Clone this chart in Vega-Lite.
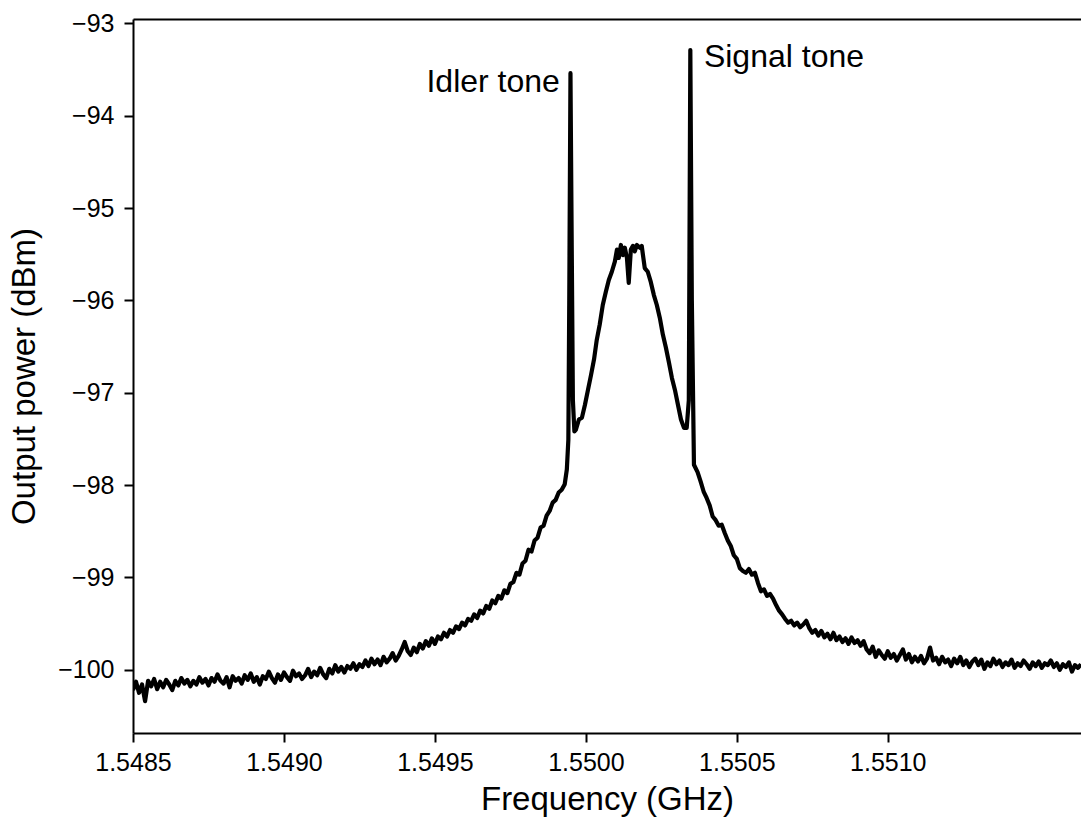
{
"$schema": "https://vega.github.io/schema/vega-lite/v6.json",
"width": 948,
"height": 714,
"autosize": {"type": "none"},
"padding": {"left": 133, "top": 19, "right": 0, "bottom": 86},
"background": "white",
"config": {
  "view": {"stroke": null},
  "font": "Liberation Sans",
  "axis": {"domainColor": "black", "domainWidth": 2, "tickColor": "black", "tickWidth": 2, "tickSize": 9, "labelColor": "black", "labelFontSize": 25, "labelFont": "Liberation Sans", "titleFont": "Liberation Sans", "titleFontSize": 33, "titleFontWeight": "normal", "titleColor": "black", "grid": false, "labelFlush": false, "labelOverlap": false}
},
"datasets": {
  "spec": [
{"f":1.54850,"p":-100.22},{"f":1.54851,"p":-100.13},{"f":1.54852,"p":-100.25},{"f":1.54853,"p":-100.16},{"f":1.54854,"p":-100.34},{"f":1.54855,"p":-100.12},{"f":1.54856,"p":-100.18},{"f":1.54857,"p":-100.10},{"f":1.54858,"p":-100.21},{"f":1.54859,"p":-100.13},
{"f":1.54860,"p":-100.19},{"f":1.54861,"p":-100.11},{"f":1.54862,"p":-100.16},{"f":1.54863,"p":-100.22},{"f":1.54864,"p":-100.12},{"f":1.54865,"p":-100.17},{"f":1.54866,"p":-100.09},{"f":1.54867,"p":-100.15},{"f":1.54868,"p":-100.11},{"f":1.54869,"p":-100.18},
{"f":1.54870,"p":-100.12},{"f":1.54871,"p":-100.16},{"f":1.54872,"p":-100.08},{"f":1.54873,"p":-100.14},{"f":1.54874,"p":-100.10},{"f":1.54875,"p":-100.17},{"f":1.54876,"p":-100.09},{"f":1.54877,"p":-100.13},{"f":1.54878,"p":-100.05},{"f":1.54879,"p":-100.12},
{"f":1.54880,"p":-100.15},{"f":1.54881,"p":-100.08},{"f":1.54882,"p":-100.19},{"f":1.54883,"p":-100.07},{"f":1.54884,"p":-100.12},{"f":1.54885,"p":-100.09},{"f":1.54886,"p":-100.15},{"f":1.54887,"p":-100.06},{"f":1.54888,"p":-100.11},{"f":1.54889,"p":-100.04},
{"f":1.54890,"p":-100.13},{"f":1.54891,"p":-100.08},{"f":1.54892,"p":-100.16},{"f":1.54893,"p":-100.07},{"f":1.54894,"p":-100.10},{"f":1.54895,"p":-100.02},{"f":1.54896,"p":-100.09},{"f":1.54897,"p":-100.14},{"f":1.54898,"p":-100.05},{"f":1.54899,"p":-100.11},
{"f":1.54900,"p":-100.03},{"f":1.54901,"p":-100.08},{"f":1.54902,"p":-100.12},{"f":1.54903,"p":-100.01},{"f":1.54904,"p":-100.07},{"f":1.54905,"p":-100.04},{"f":1.54906,"p":-100.10},{"f":1.54907,"p":-100.06},{"f":1.54908,"p":-99.99},{"f":1.54909,"p":-100.08},
{"f":1.54910,"p":-100.02},{"f":1.54911,"p":-100.06},{"f":1.54912,"p":-99.98},{"f":1.54913,"p":-100.05},{"f":1.54914,"p":-100.09},{"f":1.54915,"p":-99.99},{"f":1.54916,"p":-100.04},{"f":1.54917,"p":-99.95},{"f":1.54918,"p":-100.02},{"f":1.54919,"p":-99.97},
{"f":1.54920,"p":-100.03},{"f":1.54921,"p":-99.96},{"f":1.54922,"p":-99.99},{"f":1.54923,"p":-99.93},{"f":1.54924,"p":-100.00},{"f":1.54925,"p":-99.94},{"f":1.54926,"p":-99.97},{"f":1.54927,"p":-99.90},{"f":1.54928,"p":-99.96},{"f":1.54929,"p":-99.88},
{"f":1.54930,"p":-99.94},{"f":1.54931,"p":-99.89},{"f":1.54932,"p":-99.95},{"f":1.54933,"p":-99.86},{"f":1.54934,"p":-99.92},{"f":1.54935,"p":-99.88},{"f":1.54936,"p":-99.82},{"f":1.54937,"p":-99.90},{"f":1.54938,"p":-99.85},{"f":1.54939,"p":-99.78},
{"f":1.54940,"p":-99.70},{"f":1.54941,"p":-99.80},{"f":1.54942,"p":-99.84},{"f":1.54943,"p":-99.76},{"f":1.54944,"p":-99.81},{"f":1.54945,"p":-99.72},{"f":1.54946,"p":-99.77},{"f":1.54947,"p":-99.69},{"f":1.54948,"p":-99.74},{"f":1.54949,"p":-99.66},
{"f":1.54950,"p":-99.72},{"f":1.54951,"p":-99.64},{"f":1.54952,"p":-99.67},{"f":1.54953,"p":-99.60},{"f":1.54954,"p":-99.64},{"f":1.54955,"p":-99.57},{"f":1.54956,"p":-99.60},{"f":1.54957,"p":-99.53},{"f":1.54958,"p":-99.56},{"f":1.54959,"p":-99.49},
{"f":1.54960,"p":-99.52},{"f":1.54961,"p":-99.45},{"f":1.54962,"p":-99.47},{"f":1.54963,"p":-99.40},{"f":1.54964,"p":-99.44},{"f":1.54965,"p":-99.36},{"f":1.54966,"p":-99.39},{"f":1.54967,"p":-99.31},{"f":1.54968,"p":-99.34},{"f":1.54969,"p":-99.25},
{"f":1.54970,"p":-99.28},{"f":1.54971,"p":-99.20},{"f":1.54972,"p":-99.23},{"f":1.54973,"p":-99.14},{"f":1.54974,"p":-99.17},{"f":1.54975,"p":-99.07},{"f":1.54976,"p":-99.05},{"f":1.54977,"p":-98.95},{"f":1.54978,"p":-98.97},{"f":1.54979,"p":-98.85},
{"f":1.54980,"p":-98.82},{"f":1.54981,"p":-98.70},{"f":1.54982,"p":-98.72},{"f":1.54983,"p":-98.60},{"f":1.54984,"p":-98.57},{"f":1.54985,"p":-98.46},{"f":1.54986,"p":-98.44},{"f":1.54987,"p":-98.33},{"f":1.54988,"p":-98.28},{"f":1.54989,"p":-98.19},
{"f":1.54990,"p":-98.16},{"f":1.54991,"p":-98.08},{"f":1.54992,"p":-98.05},{"f":1.54993,"p":-97.99},
{"f":1.549937,"p":-97.83},{"f":1.549942,"p":-97.51},{"f":1.549945,"p":-96.00},{"f":1.549949,"p":-93.54},{"f":1.549952,"p":-94.91},{"f":1.549957,"p":-97.08},{"f":1.549962,"p":-97.42},
{"f":1.549967,"p":-97.40},{"f":1.549977,"p":-97.29},{"f":1.549987,"p":-97.27},{"f":1.549997,"p":-97.13},{"f":1.550007,"p":-96.97},{"f":1.550017,"p":-96.81},{"f":1.550027,"p":-96.64},{"f":1.550036,"p":-96.43},{"f":1.550046,"p":-96.26},{"f":1.550056,"p":-96.05},
{"f":1.550066,"p":-95.91},{"f":1.550076,"p":-95.78},{"f":1.550086,"p":-95.69},{"f":1.550096,"p":-95.58},{"f":1.550103,"p":-95.45},{"f":1.550109,"p":-95.54},{"f":1.550116,"p":-95.40},{"f":1.550123,"p":-95.51},{"f":1.550129,"p":-95.43},{"f":1.550136,"p":-95.54},
{"f":1.550142,"p":-95.81},{"f":1.550149,"p":-95.45},{"f":1.550156,"p":-95.41},{"f":1.550162,"p":-95.47},{"f":1.550169,"p":-95.40},{"f":1.550179,"p":-95.43},{"f":1.550185,"p":-95.41},{"f":1.550195,"p":-95.65},{"f":1.550205,"p":-95.69},{"f":1.550215,"p":-95.80},
{"f":1.550225,"p":-95.94},{"f":1.550235,"p":-96.05},{"f":1.550245,"p":-96.19},{"f":1.550255,"p":-96.37},{"f":1.550265,"p":-96.51},{"f":1.550275,"p":-96.67},{"f":1.550285,"p":-96.84},{"f":1.550295,"p":-96.97},{"f":1.550305,"p":-97.13},{"f":1.550315,"p":-97.29},
{"f":1.550325,"p":-97.38},{"f":1.550334,"p":-97.38},{"f":1.550341,"p":-97.08},{"f":1.550346,"p":-93.29},{"f":1.550351,"p":-96.00},{"f":1.550358,"p":-97.78},
{"f":1.55037,"p":-97.86},{"f":1.55038,"p":-97.96},{"f":1.55039,"p":-98.07},{"f":1.55040,"p":-98.14},{"f":1.55041,"p":-98.22},{"f":1.55042,"p":-98.34},{"f":1.55043,"p":-98.38},{"f":1.55044,"p":-98.44},{"f":1.55045,"p":-98.43},{"f":1.55046,"p":-98.52},
{"f":1.55047,"p":-98.60},{"f":1.55048,"p":-98.66},{"f":1.55049,"p":-98.76},{"f":1.55050,"p":-98.80},{"f":1.55051,"p":-98.90},{"f":1.55052,"p":-98.93},{"f":1.55053,"p":-98.95},{"f":1.55054,"p":-98.91},{"f":1.55055,"p":-98.97},{"f":1.55056,"p":-98.95},
{"f":1.55057,"p":-99.06},{"f":1.55058,"p":-99.15},{"f":1.55059,"p":-99.13},{"f":1.55060,"p":-99.20},{"f":1.55061,"p":-99.18},{"f":1.55062,"p":-99.23},{"f":1.55063,"p":-99.30},{"f":1.55064,"p":-99.36},{"f":1.55065,"p":-99.40},{"f":1.55066,"p":-99.45},
{"f":1.55067,"p":-99.49},{"f":1.55068,"p":-99.47},{"f":1.55069,"p":-99.52},{"f":1.55070,"p":-99.49},{"f":1.55071,"p":-99.54},{"f":1.55072,"p":-99.51},{"f":1.55073,"p":-99.47},{"f":1.55074,"p":-99.55},{"f":1.55075,"p":-99.60},{"f":1.55076,"p":-99.57},
{"f":1.55077,"p":-99.63},{"f":1.55078,"p":-99.58},{"f":1.55079,"p":-99.65},{"f":1.55080,"p":-99.61},{"f":1.55081,"p":-99.67},{"f":1.55082,"p":-99.60},{"f":1.55083,"p":-99.68},{"f":1.55084,"p":-99.64},{"f":1.55085,"p":-99.70},{"f":1.55086,"p":-99.66},
{"f":1.55087,"p":-99.72},{"f":1.55088,"p":-99.65},{"f":1.55089,"p":-99.71},{"f":1.55090,"p":-99.68},{"f":1.55091,"p":-99.74},{"f":1.55092,"p":-99.69},{"f":1.55093,"p":-99.78},{"f":1.55094,"p":-99.82},{"f":1.55095,"p":-99.75},{"f":1.55096,"p":-99.86},
{"f":1.55097,"p":-99.79},{"f":1.55098,"p":-99.84},{"f":1.55099,"p":-99.88},{"f":1.55100,"p":-99.80},{"f":1.55101,"p":-99.87},{"f":1.55102,"p":-99.83},{"f":1.55103,"p":-99.90},{"f":1.55104,"p":-99.84},{"f":1.55105,"p":-99.78},{"f":1.55106,"p":-99.89},
{"f":1.55107,"p":-99.83},{"f":1.55108,"p":-99.92},{"f":1.55109,"p":-99.86},{"f":1.55110,"p":-99.91},{"f":1.55111,"p":-99.85},{"f":1.55112,"p":-99.93},{"f":1.55113,"p":-99.88},{"f":1.55114,"p":-99.76},{"f":1.55115,"p":-99.90},{"f":1.55116,"p":-99.87},
{"f":1.55117,"p":-99.94},{"f":1.55118,"p":-99.86},{"f":1.55119,"p":-99.92},{"f":1.55120,"p":-99.89},{"f":1.55121,"p":-99.96},{"f":1.55122,"p":-99.88},{"f":1.55123,"p":-99.93},{"f":1.55124,"p":-99.86},{"f":1.55125,"p":-99.95},{"f":1.55126,"p":-99.90},
{"f":1.55127,"p":-99.97},{"f":1.55128,"p":-99.91},{"f":1.55129,"p":-99.88},{"f":1.55130,"p":-99.95},{"f":1.55131,"p":-99.89},{"f":1.55132,"p":-99.99},{"f":1.55133,"p":-99.92},{"f":1.55134,"p":-99.96},{"f":1.55135,"p":-99.88},{"f":1.55136,"p":-99.94},
{"f":1.55137,"p":-99.90},{"f":1.55138,"p":-99.97},{"f":1.55139,"p":-99.92},{"f":1.55140,"p":-99.95},{"f":1.55141,"p":-99.89},{"f":1.55142,"p":-99.98},{"f":1.55143,"p":-99.93},{"f":1.55144,"p":-99.96},{"f":1.55145,"p":-99.90},{"f":1.55146,"p":-99.94},
{"f":1.55147,"p":-99.99},{"f":1.55148,"p":-99.92},{"f":1.55149,"p":-99.96},{"f":1.55150,"p":-99.91},{"f":1.55151,"p":-99.98},{"f":1.55152,"p":-99.93},{"f":1.55153,"p":-99.95},{"f":1.55154,"p":-99.90},{"f":1.55155,"p":-99.97},{"f":1.55156,"p":-99.93},
{"f":1.55157,"p":-100.00},{"f":1.55158,"p":-99.94},{"f":1.55159,"p":-99.97},{"f":1.55160,"p":-99.92},{"f":1.55161,"p":-100.02},{"f":1.55162,"p":-99.95},{"f":1.55163,"p":-99.98},{"f":1.55164,"p":-99.94}
  ],
  "notes": [
    {"f": 1.549914, "p": -93.744, "label": "Idler tone", "side": "left"},
    {"f": 1.550391, "p": -93.473, "label": "Signal tone", "side": "right"}
  ]
},
"layer": [
  {
    "data": {"name": "spec"},
    "mark": {"type": "line", "color": "black", "strokeWidth": 4.2, "clip": true, "strokeJoin": "round"},
    "encoding": {
      "x": {"field": "f", "type": "quantitative", "scale": {"domain": [1.5485, 1.55164], "nice": false, "zero": false},
            "axis": {"orient": "bottom", "title": "Frequency (GHz)", "values": [1.5485, 1.549, 1.5495, 1.55, 1.5505, 1.551], "format": ".4f", "labelPadding": 8, "titlePadding": 8}},
      "y": {"field": "p", "type": "quantitative", "scale": {"domain": [-100.685, -92.953], "nice": false, "zero": false},
            "axis": {"orient": "left", "title": "Output power (dBm)", "values": [-100, -99, -98, -97, -96, -95, -94, -93], "format": "d", "labelPadding": 10, "titlePadding": 16}}
    }
  },
  {
    "data": {"name": "notes"},
    "transform": [{"filter": "datum.side === 'left'"}],
    "mark": {"type": "text", "align": "right", "baseline": "alphabetic", "fontSize": 32, "color": "black", "font": "Liberation Sans"},
    "encoding": {
      "x": {"field": "f", "type": "quantitative", "axis": {"orient": "top", "labels": false, "ticks": false, "title": null, "domain": true}},
      "y": {"field": "p", "type": "quantitative", "axis": null},
      "text": {"field": "label"}
    }
  },
  {
    "data": {"name": "notes"},
    "transform": [{"filter": "datum.side === 'right'"}],
    "mark": {"type": "text", "align": "left", "baseline": "alphabetic", "fontSize": 32, "color": "black", "font": "Liberation Sans"},
    "encoding": {
      "x": {"field": "f", "type": "quantitative", "axis": null},
      "y": {"field": "p", "type": "quantitative", "axis": null},
      "text": {"field": "label"}
    }
  }
],
"resolve": {"axis": {"x": "independent", "y": "independent"}}
}
